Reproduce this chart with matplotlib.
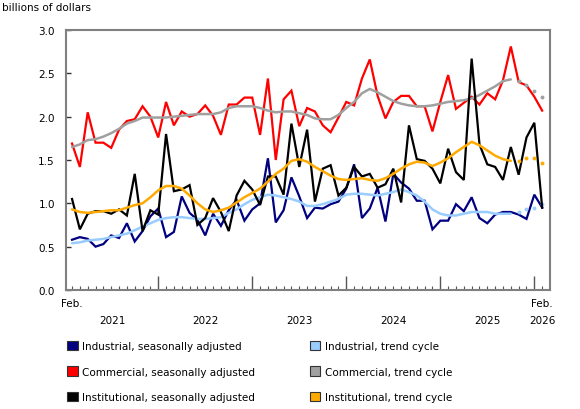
import matplotlib.pyplot as plt
from matplotlib.patches import Patch
from matplotlib.transforms import blended_transform_factory

# monthly, Feb 2021 .. Feb 2026 (61 months), billions of dollars
industrial_sa = [0.58, 0.61, 0.59, 0.50, 0.53, 0.63, 0.60, 0.77, 0.56, 0.68, 0.85,
                 0.94, 0.61, 0.67, 1.08, 0.89, 0.81, 0.63, 0.88, 0.74, 0.92, 1.04, 0.80,
                 0.93, 1.00, 1.52, 0.78, 0.92, 1.30, 1.08, 0.83, 0.95, 0.94, 0.99, 1.02,
                 1.17, 1.45, 0.83, 0.94, 1.18, 0.79, 1.34, 1.24, 1.17, 1.03, 1.03, 0.70,
                 0.80, 0.80, 0.99, 0.91, 1.07, 0.83, 0.77, 0.87, 0.90, 0.90, 0.87, 0.82,
                 1.10, 0.95]
industrial_trend = [0.54, 0.55, 0.57, 0.58, 0.59, 0.61, 0.63, 0.65, 0.69, 0.73, 0.77,
                    0.81, 0.83, 0.84, 0.84, 0.83, 0.82, 0.82, 0.83, 0.84, 0.89, 0.93, 0.99,
                    1.04, 1.07, 1.10, 1.09, 1.07, 1.05, 1.02, 0.97, 0.97, 0.99, 1.02, 1.05,
                    1.10, 1.11, 1.11, 1.10, 1.09, 1.11, 1.13, 1.16, 1.13, 1.09, 1.02, 0.93,
                    0.88, 0.86, 0.86, 0.88, 0.90, 0.90, 0.90, 0.88, 0.88, 0.88, 0.90, 0.93,
                    0.95, 0.99]
commercial_sa = [1.69, 1.42, 2.05, 1.70, 1.70, 1.64, 1.85, 1.95, 1.97, 2.12, 2.00,
                 1.76, 2.17, 1.90, 2.06, 2.00, 2.03, 2.13, 2.01, 1.79, 2.14, 2.14, 2.22,
                 2.22, 1.79, 2.44, 1.50, 2.20, 2.30, 1.89, 2.10, 2.06, 1.90, 1.82, 1.99,
                 2.17, 2.13, 2.44, 2.66, 2.24, 1.98, 2.17, 2.24, 2.24, 2.12, 2.12, 1.83,
                 2.17, 2.48, 2.09, 2.16, 2.23, 2.14, 2.27, 2.20, 2.42, 2.81, 2.40, 2.36,
                 2.23, 2.07]
commercial_trend = [1.65, 1.68, 1.73, 1.74, 1.77, 1.81, 1.86, 1.92, 1.95, 1.99, 1.99,
                    1.99, 1.99, 2.00, 2.01, 2.02, 2.03, 2.03, 2.03, 2.05, 2.10, 2.12, 2.12,
                    2.12, 2.10, 2.07, 2.05, 2.06, 2.06, 2.04, 2.02, 1.98, 1.97, 1.97, 2.02,
                    2.10, 2.17, 2.27, 2.32, 2.28, 2.23, 2.18, 2.15, 2.13, 2.12, 2.12, 2.13,
                    2.15, 2.17, 2.18, 2.19, 2.21, 2.25, 2.30, 2.35, 2.41, 2.43, 2.41, 2.37,
                    2.30, 2.23]
institutional_sa = [1.05, 0.70, 0.88, 0.91, 0.91, 0.88, 0.93, 0.86, 1.34, 0.68, 0.92,
                    0.87, 1.80, 1.14, 1.16, 1.21, 0.75, 0.83, 1.06, 0.90, 0.68, 1.09, 1.26,
                    1.16, 0.98, 1.31, 1.31, 1.10, 1.92, 1.42, 1.85, 1.02, 1.40, 1.44, 1.09,
                    1.18, 1.42, 1.31, 1.34, 1.18, 1.22, 1.40, 1.01, 1.90, 1.51, 1.49, 1.40,
                    1.23, 1.63, 1.36, 1.27, 2.67, 1.68, 1.45, 1.42, 1.27, 1.65, 1.33, 1.76,
                    1.93, 0.95]
institutional_trend = [0.93, 0.90, 0.89, 0.90, 0.91, 0.92, 0.92, 0.95, 0.98, 1.00, 1.07,
                       1.15, 1.20, 1.20, 1.17, 1.09, 1.00, 0.93, 0.90, 0.92, 0.95, 1.01, 1.07,
                       1.12, 1.17, 1.25, 1.34, 1.40, 1.49, 1.51, 1.48, 1.42, 1.37, 1.32, 1.28,
                       1.27, 1.28, 1.29, 1.27, 1.26, 1.29, 1.34, 1.40, 1.45, 1.48, 1.47, 1.43,
                       1.47, 1.52, 1.59, 1.65, 1.71, 1.67, 1.61, 1.55, 1.51, 1.49, 1.49, 1.52,
                       1.52, 1.47]

# trend cycle is drawn solid up to this month, dotted after
trend_last_solid = 56
years = ["2021", "2022", "2023", "2024", "2025", "2026"]
january_idx = [11, 23, 35, 47, 59]

n = len(industrial_sa)
x = list(range(n))

plt.rcParams['font.family'] = 'DejaVu Sans'
plt.rcParams['font.size'] = 7.5

fig = plt.figure(figsize=(5.8, 4.1), dpi=100)
ax = fig.add_axes([66 / 580, 1 - 291 / 410, (550 - 66) / 580, 260 / 410])

series = [
    (industrial_sa, "#000080", False, "Industrial, seasonally adjusted"),
    (industrial_trend, "#99ccff", True, "Industrial, trend cycle"),
    (commercial_sa, "#ff0000", False, "Commercial, seasonally adjusted"),
    (commercial_trend, "#a0a0a0", True, "Commercial, trend cycle"),
    (institutional_sa, "#000000", False, "Institutional, seasonally adjusted"),
    (institutional_trend, "#ffaa00", True, "Institutional, trend cycle"),
]

for values, color, is_trend, label in series:
    if is_trend:
        k = trend_last_solid
        ax.plot(x[:k + 1], values[:k + 1], color=color, lw=1.8, solid_capstyle='round')
        ax.plot(x[k + 1:], values[k + 1:], color=color, ls='none', marker='o', ms=2.8,
                mec='none')
    else:
        ax.plot(x, values, color=color, lw=1.6, solid_joinstyle='miter')

ax.set_xlim(-0.77, 61.0)
ax.set_ylim(0, 3.0)
ax.set_yticks([0, 0.5, 1.0, 1.5, 2.0, 2.5, 3.0])
ax.set_yticklabels([f"{v:.1f}" for v in [0, 0.5, 1.0, 1.5, 2.0, 2.5, 3.0]])
ax.tick_params(axis='y', direction='in', length=3.5, width=1, color='#333333', pad=8)

minor = [i for i in x if i not in january_idx]
ax.set_xticks(january_idx)
ax.set_xticks(minor, minor=True)
ax.set_xticklabels([])
ax.tick_params(axis='x', which='major', direction='in', length=10, width=1, color='#555555')
ax.tick_params(axis='x', which='minor', direction='in', length=3, width=0.8, color='#555555')

for s in ax.spines.values():
    s.set_color('#808080')
    s.set_linewidth(1.5)

trans = blended_transform_factory(ax.transData, fig.transFigure)
ax.text(0, 1 - 304 / 410, "Feb.", transform=trans, ha='center', va='center')
ax.text(60, 1 - 304 / 410, "Feb.", transform=trans, ha='center', va='center')
bounds = [-0.77] + january_idx
for k, year in enumerate(years[:-1]):
    ax.text((bounds[k] + bounds[k + 1]) / 2, 1 - 321 / 410, year, transform=trans,
            ha='center', va='center')
ax.text(60, 1 - 321 / 410, years[-1], transform=trans, ha='center', va='center')

fig.text(2 / 580, 1 - 8 / 410, "billions of dollars", ha='left', va='center')

handles = [Patch(facecolor=c, edgecolor='#333333', lw=0.8, label=lab)
           for _, c, _, lab in series]
order = [0, 2, 4, 1, 3, 5]
fig.legend([handles[i] for i in order], [handles[i].get_label() for i in order],
           loc='upper left', bbox_to_anchor=(63 / 580, 1 - 338 / 410), ncol=2,
           frameon=False, handlelength=1.0, handleheight=1.0, handletextpad=0.4,
           columnspacing=5.3, labelspacing=1.45, borderaxespad=0)

fig.savefig("out.png", dpi=100)
